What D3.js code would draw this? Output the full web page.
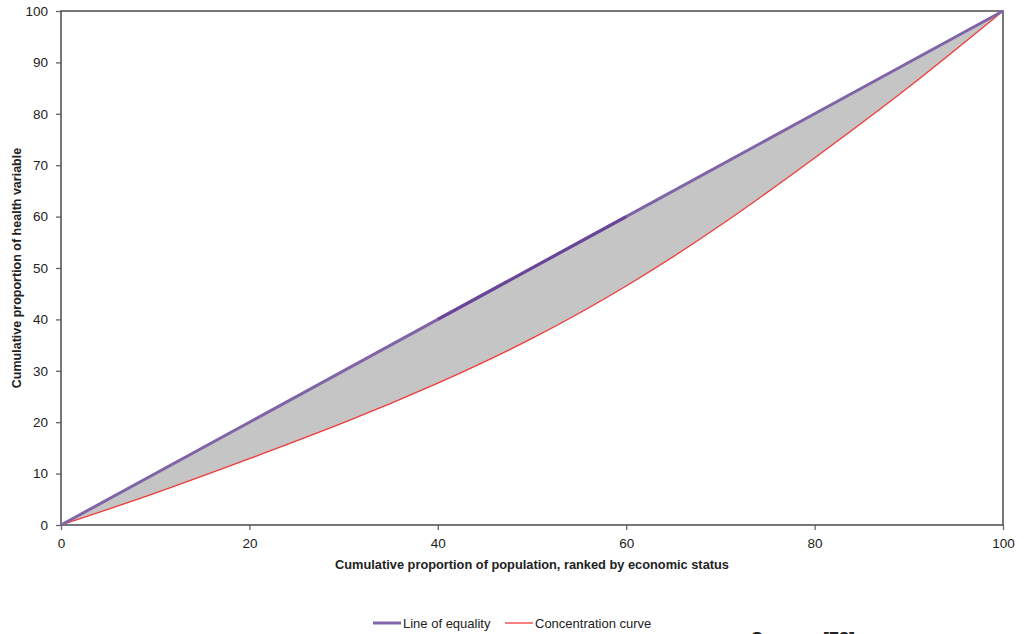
<!DOCTYPE html>
<html><head><meta charset="utf-8">
<script src="https://cdn.jsdelivr.net/npm/d3@7"></script>
<style>
html,body{margin:0;padding:0;background:#fff;overflow:hidden}
text{font-family:"Liberation Sans",Arial,sans-serif;fill:#222}
</style></head>
<body>
<svg id="c" width="1027" height="634"></svg>
<script>
const popShare = [0,10,20,30,40,50,60,70,80,90,100];
const concentration = [0,6.2,12.9,19.9,27.6,36.3,46.5,58.3,71.4,85.2,100];
const equalityX = [0,20,40,60,80,100];
const equalityY = [0,20,40,60,80,100];
const yTicks = [0,10,20,30,40,50,60,70,80,90,100];
const xTicks = [0,20,40,60,80,100];
const darkSegment = [40,60];

const svg = d3.select("#c");
const m = {l:61, t:11, r:1003, b:525};
const x = d3.scaleLinear().domain([0,100]).range([m.l,m.r]);
const y = d3.scaleLinear().domain([0,100]).range([m.b,m.t]);

// shaded area between equality line and concentration curve
const areaData = popShare.map((p,i)=>({p, lo:concentration[i], hi:p}));
svg.append("path").datum(areaData)
  .attr("d", d3.area().x(d=>x(d.p)).y0(d=>y(d.lo)).y1(d=>y(d.hi)).curve(d3.curveNatural))
  .attr("fill","#c4c5c4");

// axes
const yAxis = svg.append("g").attr("transform",`translate(${m.l},0)`)
  .call(d3.axisLeft(y).tickValues(yTicks).tickSize(5).tickPadding(8));
const xAxis = svg.append("g").attr("transform",`translate(0,${m.b})`)
  .call(d3.axisBottom(x).tickValues(xTicks).tickSize(5).tickPadding(8));
[yAxis,xAxis].forEach(a=>{
  a.select(".domain").remove();
  a.selectAll("line").attr("stroke","#666").attr("stroke-width",1.3);
  a.selectAll("text").style("font-size","13.5px").attr("fill","#222");
});

// frame
svg.append("rect").attr("x",m.l).attr("y",m.t).attr("width",m.r-m.l).attr("height",m.b-m.t)
  .attr("fill","none").attr("stroke","#555").attr("stroke-width",1.6);

// concentration curve
svg.append("path").datum(popShare.map((p,i)=>[p,concentration[i]]))
  .attr("d", d3.line().x(d=>x(d[0])).y(d=>y(d[1])).curve(d3.curveNatural))
  .attr("fill","none").attr("stroke","#f23a3a").attr("stroke-width",1.3);

// line of equality
const eq = equalityX.map((v,i)=>[v,equalityY[i]]);
svg.append("path").datum(eq)
  .attr("d", d3.line().x(d=>x(d[0])).y(d=>y(d[1])))
  .attr("fill","none").attr("stroke","#8064a8").attr("stroke-width",3);
svg.append("path").datum(eq.filter(d=>d[0]>=darkSegment[0] && d[0]<=darkSegment[1]))
  .attr("d", d3.line().x(d=>x(d[0])).y(d=>y(d[1])))
  .attr("fill","none").attr("stroke","#6a4599").attr("stroke-width",3);

// axis titles
svg.append("text").attr("x",(m.l+m.r)/2).attr("y",569).attr("text-anchor","middle")
  .style("font-size","12.8px").style("font-weight","bold").text("Cumulative proportion of population, ranked by economic status");
svg.append("text").attr("transform",`translate(21,${(m.t+m.b)/2}) rotate(-90)`).attr("text-anchor","middle")
  .style("font-size","12.5px").style("font-weight","bold").text("Cumulative proportion of health variable");

// legend
const legend = [
  {label:"Line of equality", color:"#8064a8", w:3, x:373},
  {label:"Concentration curve", color:"#f23a3a", w:1.3, x:505}
];
legend.forEach(d=>{
  svg.append("line").attr("x1",d.x).attr("x2",d.x+28).attr("y1",623).attr("y2",623)
    .attr("stroke",d.color).attr("stroke-width",d.w);
  svg.append("text").attr("x",d.x+30).attr("y",628).style("font-size","13px").text(d.label);
});

// clipped source line (cut off by the bottom edge in the reference)
svg.append("text").attr("x",751).attr("y",645).style("font-size","18px").style("font-weight","bold").text("Source: [78]");
</script>
</body></html>
